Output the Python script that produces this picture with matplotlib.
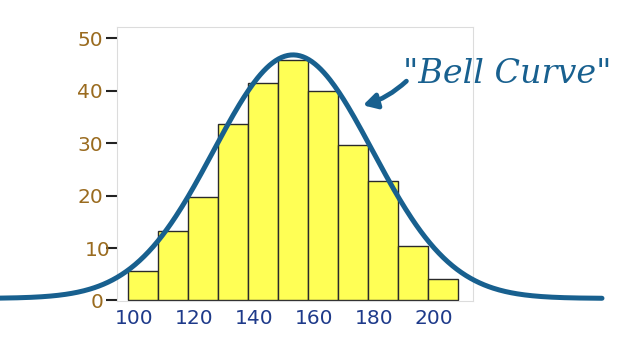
import numpy as np
import matplotlib
matplotlib.use("Agg")
import matplotlib.pyplot as plt
import matplotlib.transforms as mtransforms

# histogram bins (left edges) and counts
bin_left = [98, 108, 118, 128, 138, 148, 158, 168, 178, 188, 198]
counts = [5.7, 13.2, 19.7, 33.6, 41.4, 45.8, 39.9, 29.6, 22.8, 10.4, 4.1]
bin_width = 10

# bell curve parameters
curve_mean = 153
curve_sd = 26.5
curve_peak = 46.4
curve_range = (55, 256)

x_ticks = [100, 120, 140, 160, 180, 200]
y_ticks = [0, 10, 20, 30, 40, 50]

blue = '#18608f'

fig = plt.figure(figsize=(6.28, 3.45), dpi=100)
ax = fig.add_axes([0.1863, 0.1275, 0.5669, 0.794])

ax.bar(bin_left, counts, width=bin_width, align='edge',
       color='#ffff55', edgecolor='#2a2a2a', linewidth=1.0, zorder=2)

xs = np.linspace(curve_range[0], curve_range[1], 400)
ys = curve_peak * np.exp(-(xs - curve_mean) ** 2 / (2 * curve_sd ** 2)) + 0.4
ax.plot(xs, ys, color=blue, linewidth=3.6, solid_capstyle='round',
        clip_on=False, zorder=3)

ax.set_xlim(94.3, 213)
ax.set_ylim(-0.1, 52.1)

ax.set_xticks(x_ticks)
ax.set_yticks(y_ticks)
ax.tick_params(axis='x', length=0, pad=6, labelsize=14.5, labelcolor='#1e3a8a')
ax.tick_params(axis='y', length=8, width=1.5, color='#222222', pad=2,
               labelsize=14.5, labelcolor='#9a6b1f')

# the "10" label sits a bit to the right in the original
lbl = ax.get_yticklabels()[1]
lbl.set_transform(lbl.get_transform() +
                  mtransforms.ScaledTranslation(7 / 100, 0, fig.dpi_scale_trans))

for s in ax.spines.values():
    s.set_color('#dcdcdc')
    s.set_linewidth(0.8)

ax.annotate('', xy=(176.3, 37.2), xytext=(190.8, 41.8),
            arrowprops=dict(arrowstyle='-|>,head_length=0.8,head_width=0.45',
                            color=blue, lw=3.4,
                            connectionstyle='arc3,rad=-0.12',
                            shrinkA=0, shrinkB=0),
            annotation_clip=False, zorder=4)

ax.text(189.6, 41.4, '"Bell Curve"', color=blue, fontsize=24,
        family='DejaVu Serif', style='italic', va='baseline', ha='left',
        clip_on=False, zorder=4)

fig.savefig('out.png', dpi=100)
